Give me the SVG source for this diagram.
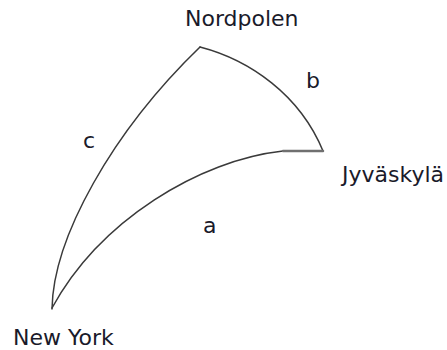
<svg xmlns="http://www.w3.org/2000/svg" width="447" height="350" viewBox="0 0 447 350">
  <style>
    .lbl { font-family: "DejaVu Sans", Verdana, sans-serif; font-size: 22px; fill: #1a1a2a; }
    .arc { fill: none; stroke: #3a3a3a; stroke-width: 1.5; stroke-linejoin: round; stroke-linecap: round; }
  </style>
  <rect width="447" height="350" fill="#ffffff"/>
  <g id="connectors">
    <path id="edge-c" class="arc" d="M52,309 C53,238 112,132 200,47"/>
    <path id="edge-b" class="arc" d="M200,47 C250,60 300,95 323,151"/>
    <path id="edge-a" class="arc" d="M323,151 L283,151 C200,160 100,220 52,308"/>
    <path class="arc" d="M323,151 L283,151" style="stroke:#707070;stroke-width:2.5"/>
    <text class="lbl" x="83" y="148">c</text>
    <text class="lbl" x="306" y="88">b</text>
    <text class="lbl" x="203" y="233">a</text>
  </g>
  <g id="node-nordpolen">
    <text class="lbl" x="185" y="26">Nordpolen</text>
  </g>
  <g id="node-jyvaskyla">
    <text class="lbl" x="342" y="182">Jyväskylä</text>
  </g>
  <g id="node-newyork">
    <text class="lbl" x="13" y="345">New York</text>
  </g>
</svg>
